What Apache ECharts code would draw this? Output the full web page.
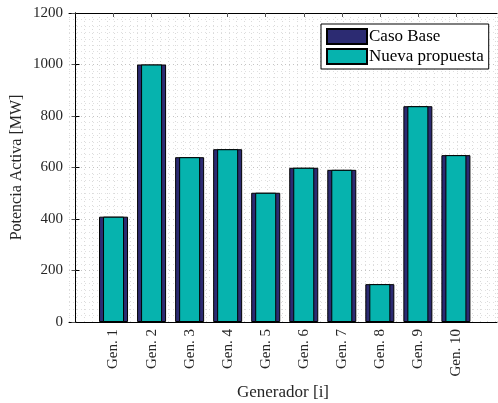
<!DOCTYPE html>
<html>
<head>
<meta charset="utf-8">
<script src="https://cdn.jsdelivr.net/npm/echarts@6/dist/echarts.min.js"></script>
<style>html,body{margin:0;padding:0;background:#fff}#c{width:498px;height:403px}</style>
</head>
<body>
<div id="c"></div>
<script>
const categories = ['Gen. 1','Gen. 2','Gen. 3','Gen. 4','Gen. 5','Gen. 6','Gen. 7','Gen. 8','Gen. 9','Gen. 10'];
const casoBase = [409, 1000, 640, 671, 502, 599, 591, 147, 838, 648];
const nuevaPropuesta = [409, 1000, 640, 671, 502, 599, 591, 147, 838, 648];
const yTicks = [0, 200, 400, 600, 800, 1000, 1200];

const positions = categories.map((c, i) => i + 1);
const XMIN = -0.171, XMAX = 11.08;
const FONT = 'Liberation Serif';

const chart = echarts.init(document.getElementById('c'), null, {renderer: 'canvas'});
const labelFmt = v => categories[Math.round(v) - 1] || '';
chart.setOption({
  animation: false,
  backgroundColor: '#fff',
  grid: {left: 69, right: 1, top: 13, bottom: 81, show: false, containLabel: false, outerBoundsMode: 'none'},
  legend: {
    orient: 'vertical', left: 321, top: 24,
    padding: [4, 5, 4, 5], itemGap: 3,
    itemWidth: 40, itemHeight: 15, icon: 'rect',
    backgroundColor: '#fff', borderColor: '#000', borderWidth: 1,
    textStyle: {fontFamily: FONT, fontSize: 17, color: '#000', padding: [0, 0, 0, -3]},
    data: ['Caso Base', 'Nueva propuesta']
  },
  xAxis: [
    {
      type: 'value', position: 'bottom', min: XMIN, max: XMAX, interval: 0.2,
      name: 'Generador [i]', nameLocation: 'middle', nameGap: 62, nameMoveOverlap: false,
      nameTextStyle: {fontFamily: FONT, fontSize: 17, color: '#262626'},
      axisLine: {show: true, onZero: false, lineStyle: {color: '#000', width: 1}},
      axisTick: {show: false},
      axisLabel: {customValues: positions, formatter: labelFmt, rotate: 90, margin: 7,
        fontFamily: FONT, fontSize: 15, color: '#262626'},
      splitLine: {show: true, lineStyle: {color: '#dadada', width: 1, type: [1, 3]}}
    },
    {
      type: 'value', position: 'top', min: XMIN, max: XMAX,
      axisLine: {show: true, onZero: false, lineStyle: {color: '#000', width: 1}},
      axisTick: {show: true, inside: true, length: 4, customValues: positions, lineStyle: {color: '#555'}},
      axisLabel: {show: false},
      splitLine: {show: false}
    }
  ],
  yAxis: [
    {
      type: 'value', position: 'left', min: 0, max: 1200, interval: 200,
      name: 'Potencia Activa [MW]', nameLocation: 'middle', nameGap: 44, nameRotate: 90, nameMoveOverlap: false,
      nameTextStyle: {fontFamily: FONT, fontSize: 16, color: '#262626'},
      axisLine: {show: true, lineStyle: {color: '#000', width: 1}},
      axisTick: {show: true, inside: true, length: 4, lineStyle: {color: '#000'}},
      axisLabel: {customValues: yTicks, formatter: v => String(v), margin: 6, fontFamily: FONT, fontSize: 15, color: '#262626'},
      splitLine: {show: true, lineStyle: {color: '#c4c4c4', width: 1, type: [1, 3]}},
      minorTick: {show: false, splitNumber: 8},
      minorSplitLine: {show: true, lineStyle: {color: '#e0e0e0', width: 1, type: [1, 3]}}
    },
    {
      type: 'value', position: 'right', min: 0, max: 1200, interval: 200,
      axisLine: {show: true, lineStyle: {color: '#000', width: 1}},
      axisTick: {show: true, inside: true, length: 4, lineStyle: {color: '#555'}},
      axisLabel: {show: false},
      splitLine: {show: false}
    }
  ],
  series: [
    {
      name: 'Caso Base', type: 'bar', xAxisIndex: 0, yAxisIndex: 0,
      barWidth: 29, clip: false,
      itemStyle: {color: '#2c2b72', borderColor: '#000', borderWidth: 1},
      data: casoBase.map((v, i) => [positions[i], v])
    },
    {
      name: 'Nueva propuesta', type: 'bar', xAxisIndex: 1, yAxisIndex: 0,
      barWidth: 21, clip: false,
      itemStyle: {color: '#06b3ae', borderColor: '#000', borderWidth: 1},
      data: nuevaPropuesta.map((v, i) => [positions[i], v])
    }
  ]
});
</script>
</body>
</html>
